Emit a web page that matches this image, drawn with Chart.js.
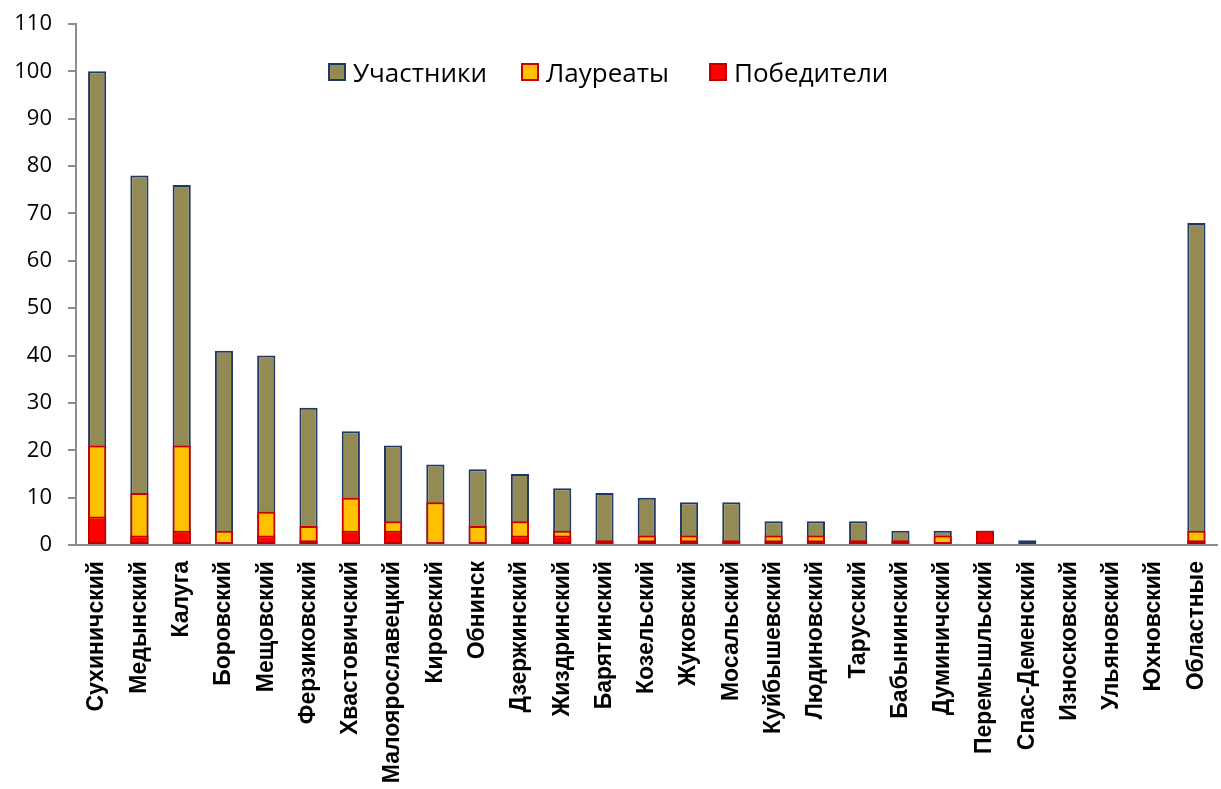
<!DOCTYPE html>
<html lang="ru">
<head>
<meta charset="utf-8">
<script src="https://cdn.jsdelivr.net/npm/chart.js@4"></script>
<style>
  html, body { margin: 0; padding: 0; background: #fff; overflow: hidden; }
  #wrap { position: relative; width: 1232px; height: 789px; }
  .leg { position: absolute; top: 54px; display: flex; align-items: center;
         font-family: "Open Sans", sans-serif; font-size: 26px; color: #000; white-space: nowrap; }
  .leg i { display: inline-block; width: 14px; height: 14px; border: 2px solid; margin-right: 7px; }
</style>
</head>
<body>
<div id="wrap">
  <canvas id="chart" width="1232" height="789"></canvas>
  <div class="leg" style="left:328px"><i style="background:#948A54;border-color:#1F3864"></i>Участники</div>
  <div class="leg" style="left:521px"><i style="background:#FFC000;border-color:#CC0000"></i>Лауреаты</div>
  <div class="leg" style="left:709px"><i style="background:#FF0000;border-color:#C00000"></i>Победители</div>
</div>
<script>
const districts = ["Сухиничский", "Медынский", "Калуга", "Боровский", "Мещовский", "Ферзиковский",
  "Хвастовичский", "Малоярославецкий", "Кировский", "Обнинск", "Дзержинский", "Жиздринский",
  "Барятинский", "Козельский", "Жуковский", "Мосальский", "Куйбышевский", "Людиновский",
  "Тарусский", "Бабынинский", "Думиничский", "Перемышльский", "Спас-Деменский", "Износковский",
  "Ульяновский", "Юхновский", "Областные"];
const participants = [100, 78, 76, 41, 40, 29, 24, 21, 17, 16, 15, 12, 11, 10, 9, 9, 5, 5, 5, 3, 3, 3, 1, 0, 0, 0, 68];
const laureates    = [21, 11, 21, 3, 7, 4, 10, 5, 9, 4, 5, 3, 1, 2, 2, 1, 2, 2, 1, 1, 2, 3, 0, 0, 0, 0, 3];
const winners      = [6, 2, 3, 0, 2, 1, 3, 3, 0, 0, 2, 2, 0, 1, 1, 0, 1, 1, 0, 0, 0, 3, 0, 0, 0, 0, 1];
const yTicks = [0, 10, 20, 30, 40, 50, 60, 70, 80, 90, 100, 110];

const axisGray = "#8C8C8C";

// bars overlap (x stacked, y not), lower order is drawn on top
new Chart(document.getElementById("chart"), {
  type: "bar",
  data: {
    labels: districts,
    datasets: [
      { label: "Участники", data: participants, backgroundColor: "#948A54", borderColor: "#1F3864", order: 3 },
      { label: "Лауреаты", data: laureates, backgroundColor: "#FFC000", borderColor: "#CC0000", order: 2 },
      { label: "Победители", data: winners, backgroundColor: "#FF0000", borderColor: "#C00000", order: 1 }
    ]
  },
  options: {
    responsive: false,
    devicePixelRatio: 1,
    animation: false,
    layout: { padding: { top: 24, left: 0, right: 0, bottom: 0 } },
    datasets: { bar: { borderWidth: 2, borderSkipped: false, barPercentage: 0.43, categoryPercentage: 1 } },
    plugins: { legend: { display: false }, tooltip: { enabled: false } },
    scales: {
      x: {
        stacked: true,
        grid: { display: false },
        border: { display: true, color: axisGray, width: 2 },
        ticks: {
          autoSkip: false, maxRotation: 90, minRotation: 90, padding: 8, color: "#000",
          font: { family: "Arial, 'Liberation Sans', sans-serif", size: 23, weight: "bold" }
        },
        afterFit: s => { s.height = 244; }
      },
      y: {
        stacked: false,
        min: 0,
        max: 110,
        afterBuildTicks: s => { s.ticks = yTicks.map(v => ({ value: v })); },
        grid: { display: true, drawOnChartArea: false, drawTicks: true, tickLength: 8, color: axisGray, lineWidth: 2 },
        border: { display: true, color: axisGray, width: 2 },
        ticks: { padding: 16, color: "#000", font: { family: "'Open Sans', sans-serif", size: 22 } },
        afterFit: s => { s.width = 76; s.paddingTop = 0; s.paddingBottom = 0; }
      }
    }
  }
});
</script>
</body>
</html>
